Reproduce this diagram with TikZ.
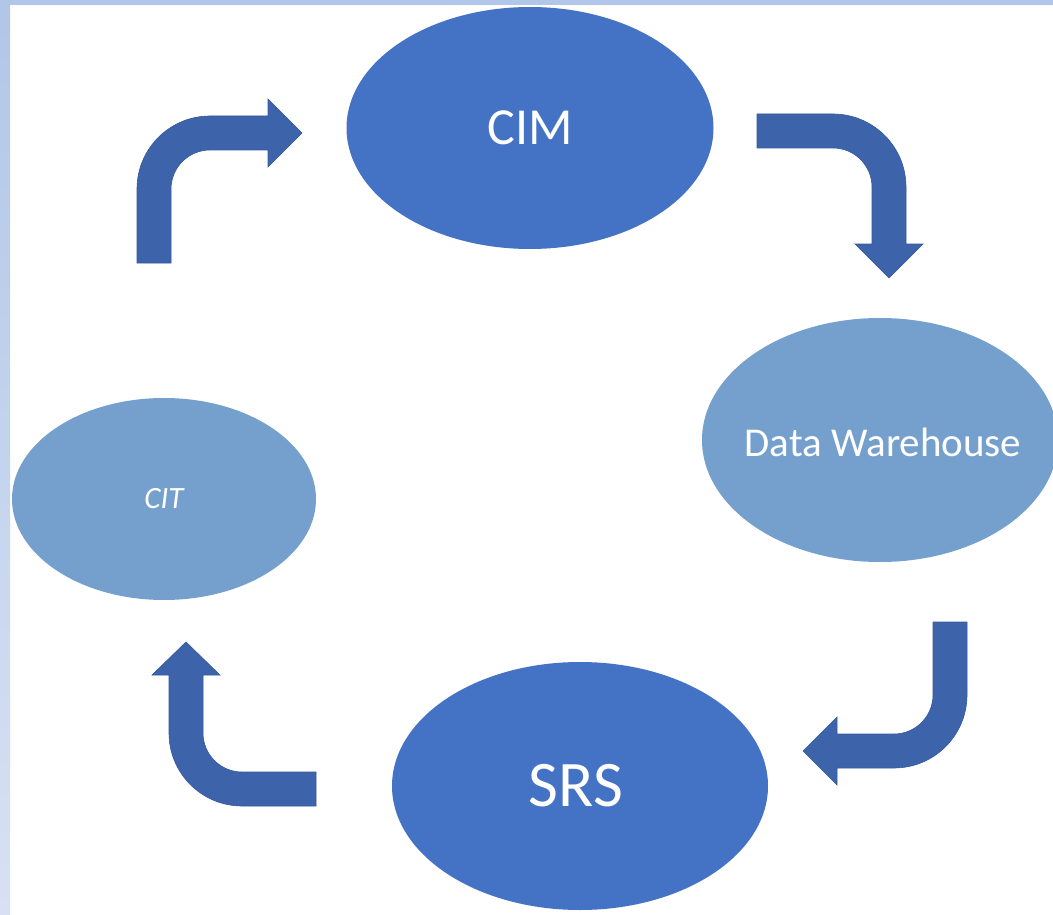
\documentclass[tikz,border=0pt]{standalone}
\usepackage{fontspec}
\setmainfont{Carlito}
\usetikzlibrary{shapes.geometric}
\definecolor{darkfill}{HTML}{4472C4}
\definecolor{lightfill}{HTML}{75A0CE}
\definecolor{arrowfill}{HTML}{3D64AA}
\definecolor{arrowline}{HTML}{35589A}
\definecolor{bandtop}{HTML}{B1C6E8}
\definecolor{bandbot}{HTML}{D8E1F3}
\tikzset{
  blob/.style={ellipse, inner sep=0pt, draw=none},
  darkblob/.style={blob, fill=darkfill},
  lightblob/.style={blob, fill=lightfill},
  bentarrow/.style={fill=arrowfill, draw=arrowline, line width=0.6pt, line join=miter},
  lbl/.style={text=white, inner sep=0pt}
}
\begin{document}
\begin{tikzpicture}[x=1pt,y=-1pt]
\clip (0,0) rectangle (1053,915);
\useasboundingbox (0,0) rectangle (1053,915);
\fill[white] (0,0) rectangle (1053,915);
% frame bands
\shade[top color=bandtop, bottom color=bandbot] (0,0) rectangle (10,915);
\fill[bandtop] (0,0) rectangle (1053,5);

% ellipses
\node[darkblob, minimum width=367pt, minimum height=242pt,
  label={[lbl, font=\fontsize{52}{60}\selectfont]center:CIM}] (cim) at (530,128) {};
\node[lightblob, minimum width=356pt, minimum height=244pt,
  label={[lbl, font=\fontsize{41}{48}\selectfont, yshift=-2pt, xshift=3pt]center:Data Warehouse}] (dw) at (880,440) {};
\node[darkblob, minimum width=376pt, minimum height=248pt,
  label={[lbl, font=\fontsize{65}{72}\selectfont, xshift=-4pt]center:SRS}] (srs) at (580,786) {};
\node[lightblob, minimum width=304pt, minimum height=202pt,
  label={[lbl, font=\itshape\fontsize{31}{36}\selectfont]center:CIT}] (cit) at (164,499) {};

% arrow CIT -> CIM
\draw[bentarrow] (137,263) -- (137,189) .. controls (137,148.7) and (169.7,116) .. (210,116)
  -- (268,116) -- (268,99) -- (302,133) -- (268,167) -- (268,150) -- (210,150)
  .. controls (188.5,150) and (171,167.5) .. (171,189) -- (171,263) -- cycle;
% arrow CIM -> DW
\draw[bentarrow] (757,114) -- (833,114) .. controls (873.3,114) and (906,146.7) .. (906,187)
  -- (906,244) -- (923,244) -- (889,278) -- (855,244) -- (872,244) -- (872,187)
  .. controls (872,165.5) and (854.5,148) .. (833,148) -- (757,148) -- cycle;
% arrow DW -> SRS
\draw[bentarrow] (933,622) -- (967,622) -- (967,695) .. controls (967,735.3) and (934.3,768) .. (894,768)
  -- (837,768) -- (837,785) -- (803,751) -- (837,717) -- (837,734) -- (894,734)
  .. controls (915.5,734) and (933,716.5) .. (933,695) -- cycle;
% arrow SRS -> CIT
\draw[bentarrow] (316,772) -- (316,806) -- (242,806) .. controls (201.7,806) and (169,773.3) .. (169,733)
  -- (169,675) -- (152,675) -- (186,642) -- (220,675) -- (203,675) -- (203,733)
  .. controls (203,754.5) and (220.5,772) .. (242,772) -- cycle;
\end{tikzpicture}
\end{document}
